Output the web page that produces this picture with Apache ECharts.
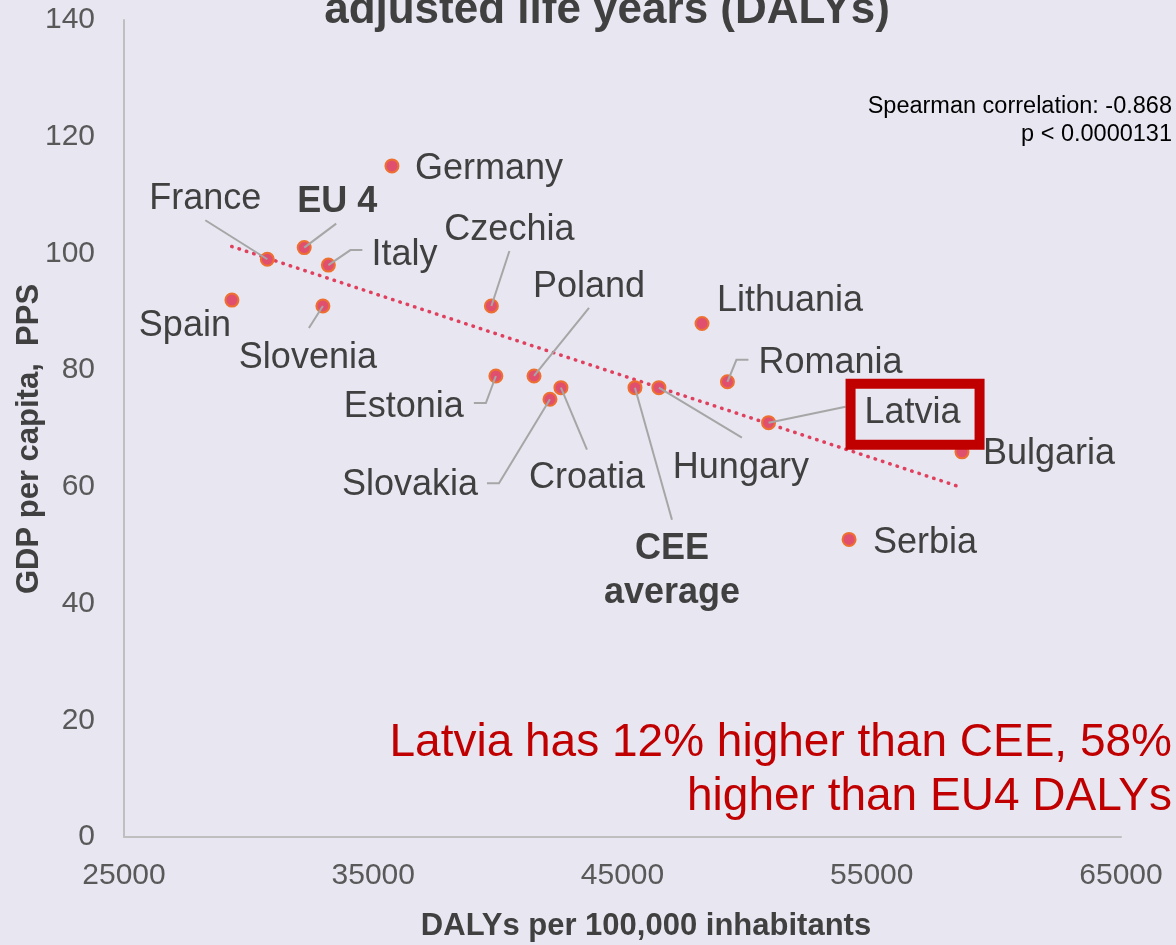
<!DOCTYPE html>
<html>
<head>
<meta charset="utf-8">
<script src="https://cdn.jsdelivr.net/npm/echarts@6/dist/echarts.min.js"></script>
<style>
  html, body { margin: 0; padding: 0; background: #E8E6F0; }
  #chart { width: 1176px; height: 945px; }
</style>
</head>
<body>
<div id="chart"></div>
<script>
// ---- data ----
const names = ['Spain', 'France', 'EU 4', 'Slovenia', 'Italy', 'Germany', 'Czechia', 'Estonia', 'Poland',
  'Slovakia', 'Croatia', 'CEE average', 'Hungary', 'Lithuania', 'Romania', 'Latvia', 'Serbia', 'Bulgaria'];
const dalys = [29330, 30750, 32230, 32980, 33200, 35750, 39740, 39920, 41450,
  42090, 42530, 45500, 46460, 48190, 49210, 50860, 54090, 58620];
const gdp = [92, 99, 101, 91, 98, 115, 91, 79, 79,
  75, 77, 77, 77, 88, 78, 71, 51, 66];
const trendX = [29320, 58600];
const trendY = [101.2, 59.9];
const xTicks = [25000, 35000, 45000, 55000, 65000];
const yTicks = [0, 20, 40, 60, 80, 100, 120, 140];
const titleText = 'adjusted life years (DALYs)';
const xTitle = 'DALYs per 100,000 inhabitants';
const yTitle = 'GDP per capita,  PPS';
const statsText = 'Spearman correlation: -0.868\np < 0.0000131';
const noteText = 'Latvia has 12% higher than CEE, 58%\nhigher than EU4 DALYs';
const highlight = 'Latvia';

// ---- label layout (pixel offsets from each point) ----
const labelLayout = {
  'Germany': [23, 0, 'left'],
  'France': [-62, -63, 'center'],
  'EU 4': [33, -49, 'center', 'bold'],
  'Italy': [43, -13, 'left'],
  'Czechia': [18, -79, 'center'],
  'Poland': [55, -92, 'center'],
  'Spain': [-1, 23, 'right'],
  'Slovenia': [-15, 49, 'center'],
  'Lithuania': [15, -25, 'left'],
  'Romania': [31, -22, 'left'],
  'Latvia': [96, -13, 'left'],
  'Bulgaria': [21, -1, 'left'],
  'Estonia': [-32, 28, 'right'],
  'Slovakia': [-72, 83, 'right'],
  'Croatia': [26, 87, 'center'],
  'Hungary': [82, 77, 'center'],
  'CEE average': [37, 180, 'center', 'bold'],
  'Serbia': [24, 1, 'left']
};
const LABEL_DY = 3;
const leaders = {
  'France': [[-62, -39]],
  'EU 4': [[32, -24]],
  'Italy': [[22, -15], [34, -15]],
  'Czechia': [[18, -55]],
  'Poland': [[55, -68]],
  'Slovenia': [[-14, 22]],
  'Estonia': [[-10, 27], [-22, 27]],
  'Slovakia': [[-51, 84], [-63, 84]],
  'Croatia': [[26, 62]],
  'CEE average': [[37, 132]],
  'Hungary': [[83, 50]],
  'Romania': [[9, -22], [21, -22]],
  'Latvia': [[77, -16]]
};

const FONT = '"Liberation Sans", Arial, sans-serif';
const TXT = '#404040';

const scatterData = names.map((n, i) => {
  const l = labelLayout[n];
  return {
    name: n,
    value: [dalys[i], gdp[i]],
    label: {
      show: true,
      position: 'inside',
      offset: [l[0], l[1] + LABEL_DY],
      align: l[2],
      verticalAlign: 'middle',
      fontSize: 36,
      lineHeight: 44,
      fontWeight: l[3] || 'normal',
      fontFamily: FONT,
      color: TXT,
      formatter: n === 'CEE average' ? 'CEE\naverage' : n
    }
  };
});

const chart = echarts.init(document.getElementById('chart'), null, { renderer: 'canvas' });
const option = {
  backgroundColor: '#E8E6F0',
  animation: false,
  grid: { left: 124, right: 55, top: 20, bottom: 108, containLabel: false },
  xAxis: {
    type: 'value', min: xTicks[0], max: xTicks[xTicks.length - 1], interval: 10000,
    axisLine: { show: true, lineStyle: { color: '#BFBFBF', width: 2 } },
    axisTick: { show: false }, splitLine: { show: false },
    axisLabel: { fontSize: 30, color: '#595959', margin: 24, fontFamily: FONT,
      formatter: v => String(v) }
  },
  yAxis: {
    type: 'value', min: yTicks[0], max: yTicks[yTicks.length - 1], interval: 20,
    axisLine: { show: true, lineStyle: { color: '#BFBFBF', width: 2 } },
    axisTick: { show: false }, splitLine: { show: false },
    axisLabel: { fontSize: 30, color: '#595959', margin: 29, fontFamily: FONT,
      formatter: v => String(v) }
  },
  series: [
    {
      type: 'line',
      data: trendX.map((x, i) => [x, trendY[i]]),
      showSymbol: false, symbol: 'none', silent: true, z: 1,
      lineStyle: { color: '#E0405E', width: 3.5, type: [0.5, 7.2], cap: 'round' }
    },
    {
      type: 'scatter',
      data: scatterData,
      symbolSize: 13, z: 3,
      itemStyle: { color: '#E0506E', borderColor: '#EE7030', borderWidth: 2, opacity: 1 },
      emphasis: { disabled: true }
    }
  ]
};
chart.setOption(option);

// annotations computed from the chart's own scales
const graphics = [];
names.forEach((n, i) => {
  if (!leaders[n]) return;
  const p = chart.convertToPixel({ gridIndex: 0 }, [dalys[i], gdp[i]]);
  const pts = [[p[0], p[1]]].concat(leaders[n].map(o => [p[0] + o[0], p[1] + o[1]]));
  graphics.push({
    type: 'polyline', z: 10, silent: true,
    shape: { points: pts },
    style: { stroke: '#A6A6A6', lineWidth: 2, fill: null }
  });
});
const li = names.indexOf(highlight);
const lp = chart.convertToPixel({ gridIndex: 0 }, [dalys[li], gdp[li]]);
graphics.push({
  type: 'rect', z: 20, silent: true,
  shape: { x: lp[0] + 82, y: lp[1] - 39, width: 129, height: 61 },
  style: { stroke: '#C00000', lineWidth: 10, fill: null }
});
graphics.push({
  type: 'text', z: 20, silent: true,
  style: { text: titleText, x: 607, y: 11, align: 'center', verticalAlign: 'middle',
    font: 'bold 44px ' + FONT, fill: TXT }
});
graphics.push({
  type: 'text', z: 20, silent: true,
  style: { text: statsText, x: 1172, y: 121, align: 'right', verticalAlign: 'middle',
    font: '23.5px ' + FONT, lineHeight: 28, fill: '#000000' }
});
graphics.push({
  type: 'text', z: 20, silent: true,
  style: { text: noteText, x: 1172, y: 770, align: 'right', verticalAlign: 'middle',
    font: '46px ' + FONT, lineHeight: 54, fill: '#C00000' }
});
graphics.push({
  type: 'text', z: 20, silent: true,
  style: { text: xTitle, x: 646, y: 926, align: 'center', verticalAlign: 'middle',
    font: 'bold 31px ' + FONT, fill: TXT }
});
graphics.push({
  type: 'text', z: 20, silent: true, x: 29, y: 439, rotation: Math.PI / 2,
  style: { text: yTitle, x: 0, y: 0, align: 'center', verticalAlign: 'middle',
    font: 'bold 31px ' + FONT, fill: TXT }
});
chart.setOption({ graphic: graphics });
</script>
</body>
</html>
